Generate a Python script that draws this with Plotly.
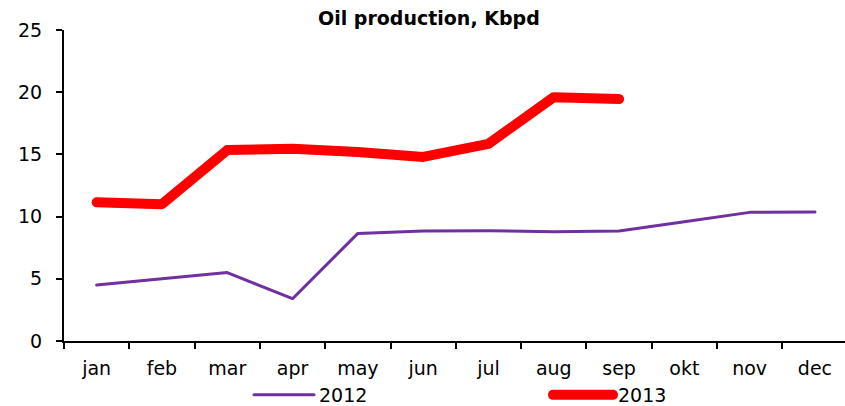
import plotly.graph_objects as go

months = ["jan", "feb", "mar", "apr", "may", "jun", "jul", "aug", "sep", "okt", "nov", "dec"]
prod_2012 = [4.5, 5.0, 5.5, 3.4, 8.65, 8.84, 8.86, 8.78, 8.84, 9.58, 10.34, 10.36]
prod_2013 = [11.15, 11.0, 15.35, 15.45, 15.2, 14.8, 15.85, 19.6, 19.45]
y_ticks = [0, 5, 10, 15, 20, 25]

FONT = "DejaVu Sans"

fig = go.Figure()
fig.add_trace(go.Scatter(
    x=months, y=prod_2012, name="2012", mode="lines",
    line=dict(color="#7030A0", width=3),
))
fig.add_trace(go.Scatter(
    x=months[:len(prod_2013)], y=prod_2013, name="2013", mode="lines",
    line=dict(color="#FF0000", width=10),
))

fig.add_annotation(
    text="<b>Oil production, Kbpd</b>", xref="paper", yref="paper",
    x=0.467, y=1 + 12 / 311, xanchor="center", yanchor="middle",
    showarrow=False, font=dict(family=FONT, size=19, color="black"),
)

fig.update_layout(
    width=845, height=406,
    margin=dict(l=64, r=0, t=30, b=65, autoexpand=False),
    paper_bgcolor="white", plot_bgcolor="white",
    font=dict(family=FONT, size=19, color="black"),
    showlegend=True,
    legend=dict(orientation="h", x=(249 - 64) / 781, xanchor="left",
                y=-(395 - 341) / 311, yanchor="middle",
                entrywidth=224, entrywidthmode="pixels",
                font=dict(family=FONT, size=19), itemwidth=60,
                tracegroupgap=0, bgcolor="rgba(0,0,0,0)"),
    xaxis=dict(
        categoryorder="array", categoryarray=months,
        range=[-0.5, 11.46], automargin=False,
        showline=True, linecolor="black", linewidth=2,
        ticks="outside", tickson="boundaries", ticklen=6, tickwidth=2, tickcolor="black",
        showgrid=False, zeroline=False, ticklabelstandoff=9,
        tickfont=dict(family=FONT, size=19),
    ),
    yaxis=dict(
        range=[0, 25], tickvals=y_ticks, automargin=False,
        showline=True, linecolor="black", linewidth=2,
        ticks="outside", ticklen=6, tickwidth=2, tickcolor="black",
        showgrid=False, zeroline=False, ticklabelstandoff=10,
        tickfont=dict(family=FONT, size=19),
    ),
)

fig.write_html(
    "out.html",
    config={"displayModeBar": False},
    post_script=(
        "document.body.style.margin='0';document.body.style.overflow='hidden';"
        "document.head.insertAdjacentHTML('beforeend',"
        "'<style>.scatterlayer .js-line,.legendlines path{stroke-linecap:round!important;"
        "stroke-linejoin:round!important}</style>');"
    ),
)
